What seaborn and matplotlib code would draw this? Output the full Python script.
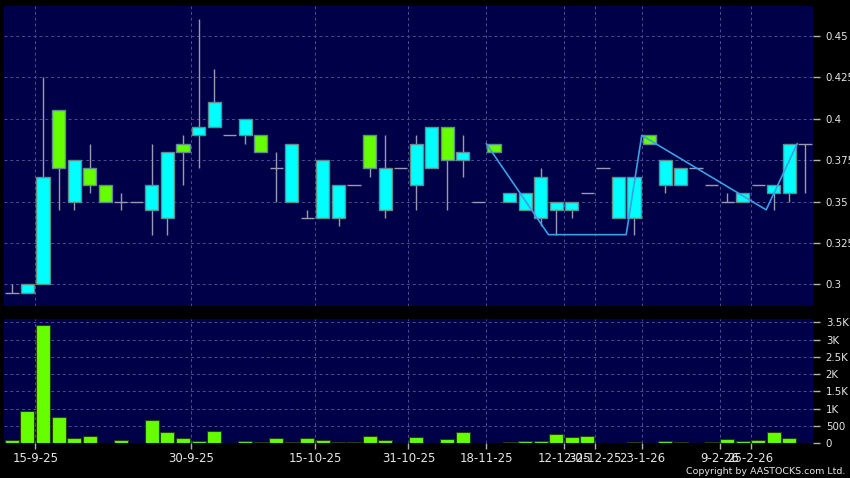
import matplotlib
matplotlib.use("Agg")
import matplotlib.pyplot as plt
import pandas as pd
import seaborn as sns
from matplotlib.ticker import FixedLocator, FuncFormatter

# Daily candles, one slot per trading day
opens = [0.295, 0.295, 0.300, 0.405, 0.350, 0.370, 0.360, 0.350, 0.350, 0.345,
         0.340, 0.385, 0.390, 0.395, 0.390, 0.390, 0.390, 0.370, 0.350, 0.340,
         0.340, 0.340, 0.360, 0.390, 0.345, 0.370, 0.360, 0.370, 0.395, 0.375,
         0.350, 0.385, 0.350, 0.345, 0.340, 0.345, 0.345, 0.355, 0.370, 0.340,
         0.340, 0.390, 0.360, 0.360, 0.370, 0.360, 0.350, 0.350, 0.360, 0.355,
         0.355, 0.385]
highs = [0.300, 0.300, 0.425, 0.405, 0.375, 0.385, 0.360, 0.355, 0.350, 0.385,
         0.380, 0.390, 0.460, 0.430, 0.390, 0.400, 0.390, 0.380, 0.385, 0.345,
         0.375, 0.360, 0.360, 0.390, 0.390, 0.370, 0.390, 0.395, 0.395, 0.390,
         0.350, 0.385, 0.355, 0.355, 0.370, 0.350, 0.350, 0.355, 0.370, 0.365,
         0.365, 0.390, 0.375, 0.370, 0.370, 0.360, 0.355, 0.355, 0.360, 0.360,
         0.385, 0.385]
lows = [0.295, 0.295, 0.300, 0.345, 0.345, 0.355, 0.350, 0.345, 0.350, 0.330,
        0.330, 0.360, 0.370, 0.395, 0.390, 0.385, 0.380, 0.350, 0.350, 0.340,
        0.340, 0.335, 0.360, 0.365, 0.340, 0.370, 0.345, 0.370, 0.345, 0.365,
        0.350, 0.380, 0.350, 0.345, 0.335, 0.330, 0.340, 0.355, 0.370, 0.340,
        0.330, 0.385, 0.355, 0.360, 0.370, 0.360, 0.350, 0.350, 0.360, 0.345,
        0.350, 0.355]
closes = [0.295, 0.300, 0.365, 0.370, 0.375, 0.360, 0.350, 0.350, 0.350, 0.360,
          0.380, 0.380, 0.395, 0.410, 0.390, 0.400, 0.380, 0.370, 0.385, 0.340,
          0.375, 0.360, 0.360, 0.370, 0.370, 0.370, 0.385, 0.395, 0.375, 0.380,
          0.350, 0.380, 0.355, 0.355, 0.365, 0.350, 0.350, 0.355, 0.370, 0.365,
          0.365, 0.385, 0.375, 0.370, 0.370, 0.360, 0.350, 0.355, 0.360, 0.360,
          0.385, 0.385]
volumes = [87, 948, 3420, 754, 164, 222, 10, 97, 8, 677,
           319, 145, 77, 358, 8, 58, 39, 155, 39, 155,
           97, 48, 39, 222, 106, 10, 184, 10, 126, 319,
           0, 0, 39, 58, 68, 280, 193, 222, 0, 0,
           48, 15, 68, 25, 0, 48, 116, 68, 87, 338,
           164, 12]

# Date labels and the slot they start at
date_slots = [2, 12, 20, 26, 31, 36, 38, 41, 46, 48]
date_labels = ["15-9-25", "30-9-25", "15-10-25", "31-10-25", "18-11-25",
               "12-12-25", "30-12-25", "23-1-26", "9-2-26", "25-2-26"]

# Overlay line (slot position, price)
line_x = [30.5, 34.5, 39.5, 40.5, 48.5, 50.5]
line_y = [0.385, 0.330, 0.330, 0.390, 0.345, 0.385]

price_ticks = [0.3, 0.325, 0.35, 0.375, 0.4, 0.425, 0.45]
vol_ticks = [0, 500, 1000, 1500, 2000, 2500, 3000, 3500]

PANEL = "#000048"
GRID = "#4d4d8f"
TEXT = "#e6e6e6"
UP = "#00ffff"
DOWN = "#66ff00"
WICK = "#9a9aae"

sns.set_theme(style="dark", rc={"figure.facecolor": "black",
                                "axes.facecolor": PANEL,
                                "axes.edgecolor": PANEL,
                                "savefig.facecolor": "black"})
plt.rcParams["font.family"] = ["DejaVu Sans"]

df = pd.DataFrame({"slot": range(len(opens)), "open": opens, "high": highs,
                   "low": lows, "close": closes, "volume": volumes})

fig = plt.figure(figsize=(8.5, 4.78), dpi=100)
ax = fig.add_axes([0.0047, 0.3598, 0.9521, 0.6283])
vax = fig.add_axes([0.0047, 0.0726, 0.9521, 0.2594])

xlim = (-0.51, 51.53)
grid_pos = [s - 0.5 for s in date_slots]


def style_grid(a):
    a.set_axisbelow(True)
    a.grid(True, color=GRID, linestyle=(0, (3, 3)), linewidth=0.7)
    for sp in a.spines.values():
        sp.set_visible(False)


# Price panel: wicks, bodies, flat sessions
ax.vlines(df["slot"], df["low"], df["high"], color=WICK, lw=1, zorder=2)
body = df[df["open"] != df["close"]]
ax.bar(body["slot"], (body["close"] - body["open"]).abs(),
       bottom=body[["open", "close"]].min(axis=1), width=0.84,
       color=[UP if c > o else DOWN for o, c in zip(body["open"], body["close"])],
       edgecolor="#5f8c8c", linewidth=1, zorder=3)
flat = df[df["open"] == df["close"]]
ax.hlines(flat["close"], flat["slot"] - 0.43, flat["slot"] + 0.43,
          color=WICK, lw=1, zorder=3)
sns.lineplot(x=line_x, y=line_y, ax=ax, sort=False, color="#3a9fe6",
             lw=1.2, zorder=4)

ax.set_xlim(xlim)
ax.set_ylim(0.2869, 0.4683)
ax.xaxis.set_major_locator(FixedLocator(grid_pos))
ax.yaxis.set_major_locator(FixedLocator(price_ticks))
ax.yaxis.set_major_formatter(FuncFormatter(lambda v, p: f"{v:g}"))
ax.yaxis.tick_right()
ax.tick_params(axis="x", bottom=False, labelbottom=False)
ax.tick_params(axis="y", right=True, length=5, width=1, color="#b0b0b0",
               pad=4, labelsize=7.4, labelcolor=TEXT)
ax.set(xlabel="", ylabel="")
style_grid(ax)

# Volume panel
sns.barplot(data=df, x="slot", y="volume", ax=vax, color=DOWN, saturation=1,
            width=0.9, edgecolor="#24400c", linewidth=0.8, errorbar=None,
            zorder=3)
vax.set_xlim(xlim)
vax.set_ylim(0, 3587)
vax.xaxis.set_major_locator(FixedLocator(grid_pos))
vax.set_xticklabels(date_labels)
vax.yaxis.set_major_locator(FixedLocator(vol_ticks))
vax.yaxis.set_major_formatter(
    FuncFormatter(lambda v, p: f"{v/1000:g}K" if v >= 1000 else f"{v:g}"))
vax.yaxis.tick_right()
vax.tick_params(axis="x", bottom=True, length=4, width=1, color="#b0b0b0",
                pad=2, labelsize=8.5, labelcolor=TEXT)
vax.tick_params(axis="y", right=True, length=5, width=1, color="#b0b0b0",
                pad=4, labelsize=7.4, labelcolor=TEXT)
vax.set(xlabel="", ylabel="")
style_grid(vax)

fig.text(0.995, 0.0135, "Copyright by AASTOCKS.com Ltd.", ha="right",
         va="center", fontsize=6.8, color=TEXT)

fig.savefig("out.png", dpi=100)
